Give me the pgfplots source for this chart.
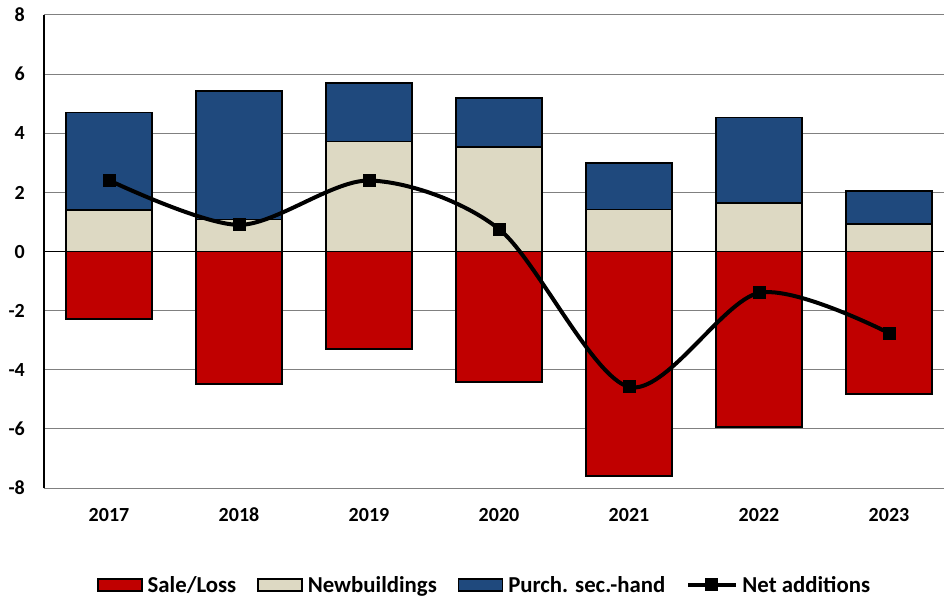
\documentclass[border=0pt]{standalone}
\usepackage{pgfplots}
\pgfplotsset{compat=1.18}
\usepackage{fontspec}
\setmainfont{Carlito}
\definecolor{cSale}{HTML}{C00000}
\definecolor{cNew}{HTML}{DDD9C3}
\definecolor{cPur}{HTML}{1F497D}
\definecolor{cGrid}{HTML}{808080}
\pgfplotsset{
  boxleg/.style={legend image code/.code={\draw[##1] (0pt,-6pt) rectangle (44pt,6pt);}},
  lineleg/.style={legend image code/.code={\draw[mark repeat=2, mark phase=2, ##1] plot coordinates {(0pt,0pt) (23.5pt,0pt) (47pt,0pt)};}},
}
\begin{document}
\begin{tikzpicture}
\useasboundingbox (0,0) rectangle (944pt,598pt);
\pgfplotsset{base/.style={at={(44pt,110pt)}, anchor=south west, scale only axis,
  width=900pt, height=473pt, xmin=-0.5, xmax=6.4231, ymin=-8, ymax=8}}
\begin{axis}[base, ybar stacked, bar width=86.67pt,
  axis x line*=bottom, axis y line*=left, axis line style={-},
  x axis line style={draw=cGrid, line width=1pt},
  y axis line style={draw=black, line width=1.5pt},
  ytick={-8,-6,-4,-2,0,2,4,6,8}, yticklabels={-8,-6,-4,-2,0,2,4,6,8},
  ymajorgrids, major grid style={draw=cGrid, line width=1pt},
  extra y ticks={0}, extra y tick labels={},
  extra y tick style={major grid style={draw=black, line width=1.5pt}},
  xtick={0,1,2,3,4,5,6}, xticklabels={2017,2018,2019,2020,2021,2022,2023},
  major tick length=0pt,
  tick label style={font=\fontsize{20}{24}\selectfont\bfseries, inner sep=0pt},
  xticklabel style={anchor=base, yshift=-33.7pt},
  yticklabel style={anchor=base east, xshift=-19pt, yshift=-6.65pt},
]
\addplot[fill=cSale, draw=black, line width=1.8pt] coordinates {(0,-2.29) (1,-4.49) (2,-3.31) (3,-4.41) (4,-7.60) (5,-5.94) (6,-4.83)};
\addplot[fill=cNew, draw=black, line width=1.8pt] coordinates {(0,1.41) (1,1.08) (2,3.72) (3,3.53) (4,1.42) (5,1.63) (6,0.92)};
\addplot[fill=cPur, draw=black, line width=1.8pt] coordinates {(0,3.29) (1,4.34) (2,1.98) (3,1.65) (4,1.58) (5,2.90) (6,1.14)};
\end{axis}
\begin{axis}[base, hide axis,
  legend columns=4, legend cell align=left,
  legend style={draw=none, fill=none, font=\fontsize{22.8}{26}\selectfont\bfseries,
    at={(rel axis cs:0.489,-0.205)}, anchor=center, inner sep=0pt,
    nodes={inner sep=1pt},
    /tikz/every odd column/.append style={column sep=4pt},
    /tikz/every even column/.append style={column sep=20pt}},
]
\addlegendimage{boxleg, fill=cSale, draw=black, line width=1.5pt}
\addlegendentry{Sale/Loss}
\addlegendimage{boxleg, fill=cNew, draw=black, line width=1.5pt}
\addlegendentry{Newbuildings}
\addlegendimage{boxleg, fill=cPur, draw=black, line width=1.5pt}
\addlegendentry{Purch. sec.-hand}
\addplot[lineleg, black, line width=4pt, smooth, mark=square*, mark size=4.5pt, mark options={solid}]
  coordinates {(0,2.41) (1,0.90) (2,2.40) (3,0.76) (4,-4.58) (5,-1.40) (6,-2.76)};
\addlegendentry{Net additions}
\end{axis}
\end{tikzpicture}
\end{document}
